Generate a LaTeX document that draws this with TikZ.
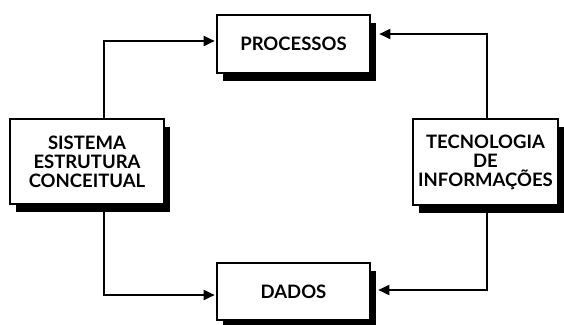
\documentclass[tikz,border=0pt]{standalone}
\usepackage{fontspec}
\setmainfont{Lato}
\usetikzlibrary{arrows.meta,shadows}
\begin{document}
\begin{tikzpicture}[x=1pt,y=-1pt,
  box/.style={draw, line width=2.6pt, fill=white, align=center, inner sep=0pt,
    font=\bfseries\fontsize{18.5}{19}\selectfont,
    drop shadow={shadow xshift=6pt, shadow yshift=-8pt, opacity=1, fill=black}},
  conn/.style={line width=1.8pt, -{Triangle[length=11pt,width=10pt]}}]
\useasboundingbox (0,0) rectangle (564,324);

% the four blocks
\node[box, minimum width=153pt, minimum height=58pt] (proc) at (293.5,44) {PROCESSOS};
\node[box, minimum width=154pt, minimum height=85pt] (sis) at (87,161.5) {SISTEMA\\ESTRUTURA\\CONCEITUAL};
\node[box, minimum width=145pt, minimum height=86pt] (tec) at (485.5,162) {TECNOLOGIA\\DE\\INFORMAÇÕES};
\node[box, minimum width=153pt, minimum height=57pt] (dad) at (293.5,291.5) {DADOS};

% corner points of the connectors
\coordinate (lt) at (104,41);
\coordinate (lb) at (104,295);
\coordinate (rt) at (487,34);
\coordinate (rb) at (487,290);

% left side: concept system feeds processes and data
\draw[conn] (sis.north -| lt) -- (lt) -- ([xshift=-1pt]proc.west |- lt);
\draw[conn] (sis.south -| lb) -- (lb) -- ([xshift=-1pt]dad.west |- lb);
% right side: information technology feeds processes and data
\draw[conn] (tec.north -| rt) -- (rt) -- ([xshift=8pt]proc.east |- rt);
\draw[conn] (tec.south -| rb) -- (rb) -- ([xshift=7pt]dad.east |- rb);
\end{tikzpicture}
\end{document}
